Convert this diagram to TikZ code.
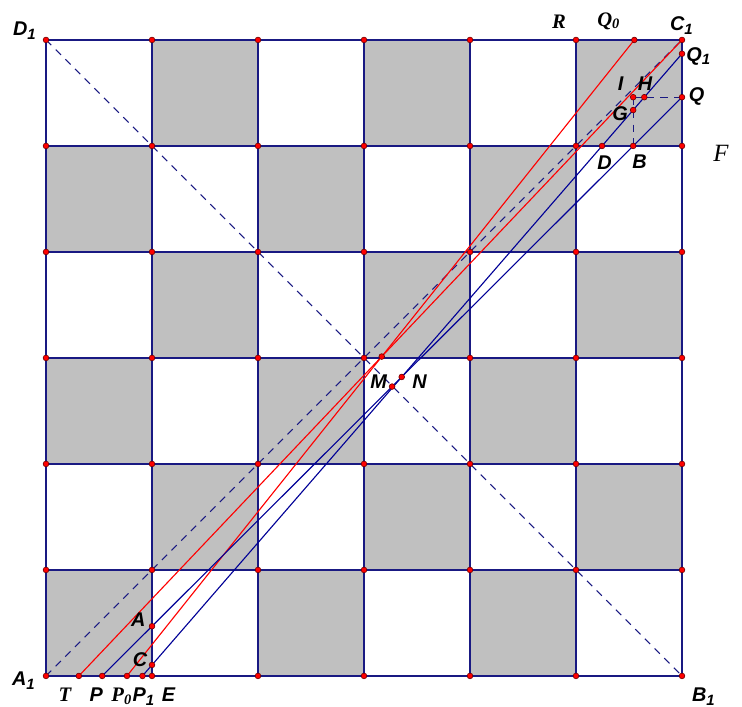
\documentclass[tikz,border=0pt]{standalone}
\usepackage{fontspec}
\setmainfont{Liberation Serif}
\setsansfont{Liberation Sans}
\usetikzlibrary{calc,intersections}

\definecolor{boardblue}{RGB}{25,25,130}
\definecolor{lineblue}{RGB}{0,0,150}
\definecolor{cellgray}{RGB}{192,192,192}

\tikzset{
  board/.style={boardblue, line width=0.6pt},
  diag/.style={boardblue, line width=0.45pt, dash pattern=on 3pt off 2.5pt},
  redline/.style={red, line width=0.45pt},
  blueline/.style={lineblue, line width=0.45pt},
  dot/.style={fill=red, draw=red!45!black, line width=0.25pt},
  lab/.style={anchor=base, inner sep=0pt, font=\sffamily\bfseries\itshape\fontsize{8}{9}\selectfont},
  slab/.style={anchor=base, inner sep=0pt, font=\rmfamily\bfseries\itshape\fontsize{8.3}{9}\selectfont},
  flab/.style={anchor=base, inner sep=0pt, font=\rmfamily\itshape\fontsize{10}{12}\selectfont}
}

\begin{document}
\begin{tikzpicture}[x=1.5cm, y=1.5cm]
    \useasboundingbox (-0.434,-0.292) rectangle (6.566,6.377);
    % Board
    \foreach \i in {0,...,5}
      \foreach \j in {0,...,5} {
        \pgfmathtruncatemacro{\odd}{mod(\i+\j,2)}
        \ifnum\odd=0 \fill[cellgray] (\i,\j) rectangle ++(1,1); \fi
      }
    \foreach \k in {0,...,6} {
      \draw[board] (\k,0) -- (\k,6);
      \draw[board] (0,\k) -- (6,\k);
    }
    % Corners
    \coordinate (A1) at (0,0);
    \coordinate (B1) at (6,0);
    \coordinate (C1) at (6,6);
    \coordinate (D1) at (0,6);
    \coordinate (E) at (1,0);
    \coordinate (R) at (5,6);
    \coordinate (F) at (6,5);
    % Points on the sides
    \coordinate (T) at (0.31,0);
    \coordinate (P) at (0.53,0);
    \coordinate (P0) at (0.764,0);
    \coordinate (P1) at (0.91,0);
    \coordinate (Q0) at (5.55,6);
    \coordinate (Q1) at (6,5.87);
    \coordinate (Q) at (6,5.46);
    % Diagonals
    \draw[diag] (A1) -- (C1);
    \draw[diag] (D1) -- (B1);
    % Lines
    \draw[redline, name path=TC] (T) -- (C1);
    \draw[redline, name path=PQzero] (P0) -- (Q0);
    \draw[blueline, name path=PQ] (P) -- (Q);
    \draw[blueline, name path=PQone] (P1) -- (Q1);
    % Intersections
    \path[name path=colE] (E) -- (1,6);
    \path[name path=rowF] (0,5) -- (F);
    \path[name path=rowQ] (0,5.46) -- (Q);
    \path[name intersections={of=PQ and colE, by=A}];
    \path[name intersections={of=PQone and colE, by=C}];
    \path[name intersections={of=PQ and rowF, by=B}];
    \path[name intersections={of=PQone and rowF, by=D}];
    \path[name intersections={of=PQone and rowQ, by=H}];
    \path[name path=colB] (B) -- ++(0,1);
    \path[name intersections={of=PQone and colB, by=G}];
    \coordinate (I) at (B |- Q);
    \path[name intersections={of=TC and PQzero, by=X}];
    \path[name intersections={of=PQ and PQone, by=N}];
    \coordinate (M) at ($(P)!0.5!(Q)$);
    \draw[diag] (I) -- (Q);
    \draw[diag] (I) -- (B);
    % Dots
    \foreach \i in {0,...,6}
      \foreach \j in {0,...,6}
        \filldraw[dot] (\i,\j) circle (1.15pt);
    \foreach \p in {T,P,P0,P1,A,C,B,D,G,H,I,Q,Q0,Q1,M,N,X}
      \filldraw[dot] (\p) circle (1.15pt);
    % Labels
    \node[lab] (lA1) at (-0.208,-0.094) {A\textsubscript{1}};
    \node[lab] (lB1) at (6.208,-0.242) {B\textsubscript{1}};
    \node[lab] (lC1) at (6.0,6.088) {C\textsubscript{1}};
    \node[lab] (lD1) at (-0.198,6.038) {D\textsubscript{1}};
    \node[slab] (lT) at (0.179,-0.242) {T};
    \node[lab] (lP) at (0.474,-0.242) {P};
    \node[slab] (lP0) at (0.717,-0.242) {P\textsubscript{0}};
    \node[lab] (lP1) at (0.925,-0.242) {P\textsubscript{1}};
    \node[lab] (lE) at (1.156,-0.242) {E};
    \node[lab] (lA) at (0.871,0.465) {A};
    \node[lab] (lC) at (0.887,0.088) {C};
    \node[lab] (lM) at (3.137,2.714) {M};
    \node[lab] (lN) at (3.525,2.714) {N};
    \node[slab] (lR) at (4.84,6.110) {R};
    \node[slab] (lQ0) at (5.311,6.13) {Q\textsubscript{0}};
    \node[lab] (lQ1) at (6.16,5.80) {Q\textsubscript{1}};
    \node[lab] (lI) at (5.42,5.52) {I};
    \node[lab] (lH) at (5.651,5.52) {H};
    \node[lab] (lQ) at (6.137,5.418) {Q};
    \node[lab] (lG) at (5.415,5.239) {G};
    \node[lab] (lD) at (5.269,4.774) {D};
    \node[lab] (lB) at (5.599,4.79) {B};
    \node[flab] (lF) at (6.368,4.849) {F};
\end{tikzpicture}
\end{document}
